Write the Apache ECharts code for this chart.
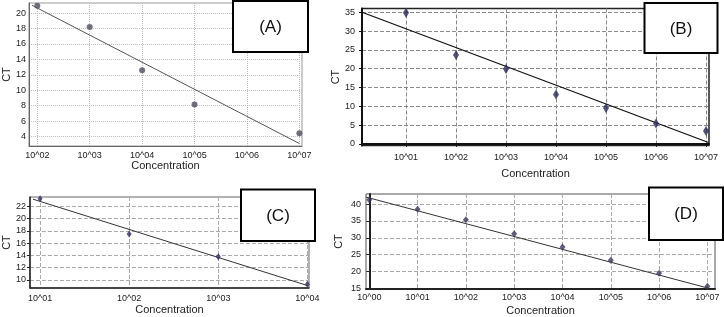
<!DOCTYPE html>
<html><head><meta charset="utf-8">
<script src="https://cdn.jsdelivr.net/npm/echarts@6/dist/echarts.min.js"></script>
<style>html,body{margin:0;padding:0;background:#fff}#c{width:724px;height:317px}</style>
</head><body><div id="c"></div>
<script>
// ---- Panel A ----
const expA = [2, 3, 4, 5, 7];
const ctA = [20.95, 18.18, 12.59, 8.17, 4.44];
const fitA = [[1.9, 21.0], [7.0, 3.1]];
const xTicksA = [2, 3, 4, 5, 6, 7];
const xLabelsA = ['10^02', '10^03', '10^04', '10^05', '10^06', '10^07'];
const yTicksA = [4, 6, 8, 10, 12, 14, 16, 18, 20];
// ---- Panel B ----
const expB = [1, 2, 3, 4, 5, 6, 7];
const ctB = [34.9, 23.6, 19.9, 13.1, 9.5, 5.4, 3.4];
const fitB = [[0.12, 35.0], [7.05, 0.35]];
const xTicksB = [1, 2, 3, 4, 5, 6, 7];
const xLabelsB = ['10^01', '10^02', '10^03', '10^04', '10^05', '10^06', '10^07'];
const yTicksB = [0, 5, 10, 15, 20, 25, 30, 35];
// ---- Panel C ----
const expC = [1, 2, 3, 4];
const ctC = [23.2, 17.5, 13.8, 9.3];
const fitC = [[0.92, 23.15], [4.0, 9.1]];
const xTicksC = [1, 2, 3, 4];
const xLabelsC = ['10^01', '10^02', '10^03', '10^04'];
const yTicksC = [10, 12, 14, 16, 18, 20, 22];
// ---- Panel D ----
const expD = [0, 1, 2, 3, 4, 5, 6, 7];
const ctD = [41.3, 38.5, 35.35, 31.2, 27.25, 23.3, 19.5, 15.6];
const fitD = [[-0.07, 42.1], [7.03, 15.0]];
const xTicksD = [0, 1, 2, 3, 4, 5, 6, 7];
const xLabelsD = ['10^00', '10^01', '10^02', '10^03', '10^04', '10^05', '10^06', '10^07'];
const yTicksD = [15, 20, 25, 30, 35, 40];
const panelNames = ['(A)', '(B)', '(C)', '(D)'];

const FONT = 'Liberation Sans, Arial, sans-serif';
const pts = (xs, ys) => xs.map((x, i) => [x, ys[i]]);
const lab = (ticks, labels) => v => { const i = ticks.indexOf(Math.round(v * 1000) / 1000); return i >= 0 ? labels[i] : ''; };

function xAx(idx, min, max, ticks, labels, o) {
  return {
    type: 'value', gridIndex: idx, min: min, max: max,
    name: 'Concentration', nameLocation: 'middle', nameGap: o.nameGap,
    nameTextStyle: { fontFamily: FONT, fontSize: 11, color: '#222' },
    axisLine: { show: true, lineStyle: { color: o.axisColor, width: o.axisWidth } },
    axisTick: { show: o.tick, customValues: ticks, length: 3, inside: false, lineStyle: { color: o.axisColor } },
    axisLabel: { customValues: ticks, formatter: lab(ticks, labels), fontFamily: FONT, fontSize: 9, color: '#222', margin: o.labelMargin },
    splitLine: { show: true, lineStyle: { color: o.gridColor, type: o.gridType, width: 1 } }
  };
}
function yAx(idx, min, max, ticks, o) {
  return {
    type: 'value', gridIndex: idx, min: min, max: max,
    name: 'CT', nameLocation: 'middle', nameGap: o.nameGap,
    nameTextStyle: { fontFamily: FONT, fontSize: 11, color: '#222' },
    axisLine: { show: true, lineStyle: { color: o.axisColor, width: o.axisWidth } },
    axisTick: { show: o.tick, customValues: ticks, length: 3, lineStyle: { color: o.axisColor } },
    axisLabel: { customValues: ticks, fontFamily: FONT, fontSize: 9, color: '#222', margin: o.labelMargin },
    splitLine: { show: true, lineStyle: { color: o.gridColor, type: o.gridType, width: 1 } }
  };
}

const chart = echarts.init(document.getElementById('c'), null, { renderer: 'canvas' });
const option = {
  animation: false,
  backgroundColor: '#fff',
  grid: [
    { left: 26, top: 3, width: 276, height: 143, show: true, borderColor: '#999', borderWidth: 1 },
    { left: 362, top: 8.5, width: 347, height: 137, show: true, borderColor: '#222', borderWidth: 1.5 },
    { left: 27, top: 197, width: 282, height: 91, show: true, borderColor: '#666', borderWidth: 1 },
    { left: 366, top: 194, width: 349, height: 95, show: true, borderColor: '#555', borderWidth: 1 }
  ],
  xAxis: [
    xAx(0, 1.84, 7.05, xTicksA, xLabelsA, { nameGap: 14, axisColor: '#666', axisWidth: 1, tick: false, labelMargin: 5, gridColor: '#bbb', gridType: 'dotted' }),
    xAx(1, 0.12, 7.06, xTicksB, xLabelsB, { nameGap: 23, axisColor: '#111', axisWidth: 2, tick: true, labelMargin: 8, gridColor: '#888', gridType: 'dashed' }),
    xAx(2, 0.886, 4.018, xTicksC, xLabelsC, { nameGap: 16, axisColor: '#222', axisWidth: 1.5, tick: false, labelMargin: 6, gridColor: '#aaa', gridType: 'dashed' }),
    xAx(3, -0.068, 7.157, xTicksD, xLabelsD, { nameGap: 16, axisColor: '#222', axisWidth: 2, tick: false, labelMargin: 4, gridColor: '#aaa', gridType: 'dashed' })
  ],
  yAxis: [
    yAx(0, 2.78, 21.3, yTicksA, { nameGap: 14, axisColor: '#666', axisWidth: 1, tick: false, labelMargin: 3, gridColor: '#bbb', gridType: 'dotted' }),
    yAx(1, -0.45, 36.0, yTicksB, { nameGap: 18, axisColor: '#111', axisWidth: 2, tick: true, labelMargin: 7, gridColor: '#888', gridType: 'dashed' }),
    yAx(2, 8.7, 23.5, yTicksC, { nameGap: 16, axisColor: '#222', axisWidth: 1.5, tick: true, labelMargin: 4, gridColor: '#aaa', gridType: 'dashed' }),
    yAx(3, 14.8, 43.0, yTicksD, { nameGap: 22, axisColor: '#222', axisWidth: 2, tick: true, labelMargin: 5, gridColor: '#aaa', gridType: 'dashed' })
  ],
  series: [
    { type: 'line', xAxisIndex: 0, yAxisIndex: 0, data: fitA, symbol: 'none', lineStyle: { color: '#555', width: 1 }, z: 3 },
    { type: 'scatter', xAxisIndex: 0, yAxisIndex: 0, data: pts(expA, ctA), symbol: 'circle', symbolSize: 6, itemStyle: { color: '#4d4d5e' }, z: 4 },
    { type: 'line', xAxisIndex: 1, yAxisIndex: 1, data: fitB, symbol: 'none', lineStyle: { color: '#111', width: 1.3 }, z: 3 },
    { type: 'scatter', xAxisIndex: 1, yAxisIndex: 1, data: pts(expB, ctB), symbol: 'diamond', symbolSize: [6, 10], itemStyle: { color: '#27275e' }, z: 4 },
    { type: 'line', xAxisIndex: 2, yAxisIndex: 2, data: fitC, symbol: 'none', lineStyle: { color: '#333', width: 1 }, z: 3 },
    { type: 'scatter', xAxisIndex: 2, yAxisIndex: 2, data: pts(expC, ctC), symbol: 'diamond', symbolSize: [5, 7], itemStyle: { color: '#2e2e60' }, z: 4 },
    { type: 'line', xAxisIndex: 3, yAxisIndex: 3, data: fitD, symbol: 'none', lineStyle: { color: '#333', width: 1 }, z: 3 },
    { type: 'scatter', xAxisIndex: 3, yAxisIndex: 3, data: pts(expD, ctD), symbol: 'diamond', symbolSize: [6, 7], itemStyle: { color: '#3a3a5c' }, z: 4 }
  ],
  graphic: [
    { type: 'rect', shape: { x: 233, y: 1, width: 75, height: 51 }, style: { fill: '#fff', stroke: '#000', lineWidth: 2 }, z: 100 },
    { type: 'text', x: 270.5, y: 27, style: { text: panelNames[0], font: '17px ' + FONT, fill: '#111', align: 'center', verticalAlign: 'middle' }, z: 101 },
    { type: 'rect', shape: { x: 644.5, y: 3, width: 73, height: 50 }, style: { fill: '#fff', stroke: '#000', lineWidth: 2 }, z: 100 },
    { type: 'text', x: 681, y: 29, style: { text: panelNames[1], font: '17px ' + FONT, fill: '#111', align: 'center', verticalAlign: 'middle' }, z: 101 },
    { type: 'rect', shape: { x: 241, y: 189.5, width: 74, height: 51.5 }, style: { fill: '#fff', stroke: '#000', lineWidth: 2 }, z: 100 },
    { type: 'text', x: 278, y: 216, style: { text: panelNames[2], font: '17px ' + FONT, fill: '#111', align: 'center', verticalAlign: 'middle' }, z: 101 },
    { type: 'rect', shape: { x: 649, y: 187.5, width: 74, height: 52.5 }, style: { fill: '#fff', stroke: '#000', lineWidth: 2 }, z: 100 },
    { type: 'text', x: 686, y: 214, style: { text: panelNames[3], font: '17px ' + FONT, fill: '#111', align: 'center', verticalAlign: 'middle' }, z: 101 }
  ]
};
chart.setOption(option);
</script>
</body></html>
